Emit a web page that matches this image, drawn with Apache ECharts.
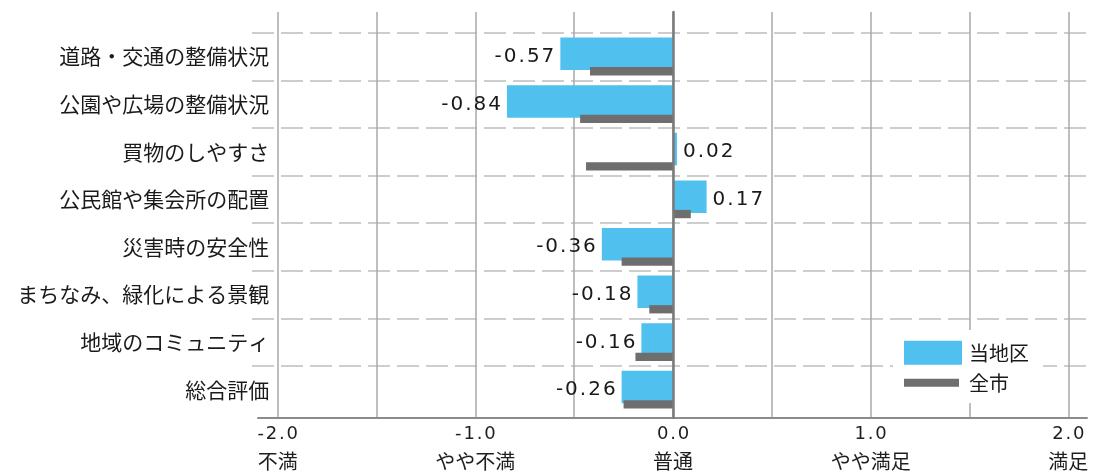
<!DOCTYPE html>
<html lang="ja">
<head>
<meta charset="utf-8">
<title>満足度評価</title>
<script src="https://cdn.jsdelivr.net/npm/echarts@6/dist/echarts.min.js"></script>
<style>
  html, body { margin: 0; padding: 0; background: #ffffff; }
  #chart { width: 1102px; height: 473px; }
</style>
</head>
<body>
<div id="chart"></div>
<script>
// 評価項目（上から順）
const categories = [
  '道路・交通の整備状況',
  '公園や広場の整備状況',
  '買物のしやすさ',
  '公民館や集会所の配置',
  '災害時の安全性',
  'まちなみ、緑化による景観',
  '地域のコミュニティ',
  '総合評価'
];
// 系列名
const seriesNames = ['当地区', '全市'];
// 当地区の評価点
const districtValues = [-0.57, -0.84, 0.02, 0.17, -0.36, -0.18, -0.16, -0.26];
// 全市の評価点
const cityValues = [-0.42, -0.47, -0.44, 0.09, -0.26, -0.12, -0.19, -0.25];
// 目盛と評価段階
const tickValues = [-2, -1, 0, 1, 2];
const tickNames = ['不満', 'やや不満', '普通', 'やや満足', '満足'];

const COLOR_DISTRICT = '#50c1ef';
const COLOR_CITY = '#6e6e6e';
const JP = '"Noto Sans CJK JP", "Noto Sans", sans-serif';
const NUM = '"DejaVu Sans", sans-serif';

// 数値ラベルは字間をわずかに空けて表示
function spaced(str) {
  return str.split('').join('\u200A');
}

const chart = echarts.init(document.getElementById('chart'), null, { renderer: 'canvas' });

const option = {
  backgroundColor: '#ffffff',
  animation: false,
  grid: [
    // 0: 縦の目盛線・目盛ラベル・ゼロ線
    { left: 277.7, right: 33.7, top: 12, bottom: 55.3 },
    // 1: 棒と項目名
    { left: 277.7, right: 33.7, top: 32.7, bottom: 59.5 },
    // 2: 項目間の破線
    { left: 252, right: 10, top: 32.7, bottom: 59.5 },
    // 3: 下側の軸線
    { left: 258, right: 15, top: 12, bottom: 55.3 }
  ],
  xAxis: [
    {
      gridIndex: 0, type: 'value', min: -2, max: 2, interval: 0.5,
      axisLine: { show: false, onZero: false },
      axisTick: { show: false },
      splitLine: { show: true, lineStyle: { color: '#a8a8a8', width: 1.5 } },
      axisLabel: {
        margin: 3.3,
        formatter: function (v) {
          const i = tickValues.indexOf(v);
          if (i < 0) return '';
          return '{num|' + spaced(v.toFixed(1)) + '}\n{name|' + tickNames[i] + '}';
        },
        rich: {
          num: { fontFamily: NUM, fontSize: 18, color: '#1e1e1e', lineHeight: 27 },
          name: { fontFamily: JP, fontSize: 20, color: '#1e1e1e', lineHeight: 27 }
        }
      }
    },
    {
      gridIndex: 1, type: 'value', min: -2, max: 2,
      axisLine: { show: false, onZero: false },
      axisTick: { show: false }, axisLabel: { show: false }, splitLine: { show: false }
    },
    {
      gridIndex: 2, type: 'value', min: 0, max: 1,
      axisLine: { show: false, onZero: false },
      axisTick: { show: false }, axisLabel: { show: false }, splitLine: { show: false }
    },
    {
      gridIndex: 3, type: 'value', min: 0, max: 1,
      axisLine: { show: true, onZero: false, lineStyle: { color: '#8c8c8c', width: 2 } },
      axisTick: { show: false }, axisLabel: { show: false }, splitLine: { show: false }
    }
  ],
  yAxis: [
    {
      // ゼロ位置に置く縦線
      gridIndex: 0, type: 'value', min: 0, max: 1, z: 5,
      axisLine: { show: true, onZero: true, lineStyle: { color: '#7a7a7a', width: 2.5 } },
      axisTick: { show: false }, axisLabel: { show: false }, splitLine: { show: false }
    },
    {
      gridIndex: 1, type: 'category', data: categories, inverse: true,
      axisLine: { show: false, onZero: false },
      axisTick: { show: false },
      splitLine: { show: false },
      axisLabel: {
        margin: 8.5,
        fontFamily: JP, fontSize: 21, color: '#1a1a1a'
      }
    },
    {
      gridIndex: 2, type: 'category', data: categories, inverse: true,
      axisLine: { show: false, onZero: false },
      axisTick: { show: false }, axisLabel: { show: false },
      splitLine: {
        show: true, showMaxLine: false,
        lineStyle: { color: '#bdbdbd', width: 1.5, type: [22, 7] }
      }
    },
    {
      gridIndex: 3, type: 'value', min: 0, max: 1,
      axisLine: { show: false, onZero: false },
      axisTick: { show: false }, axisLabel: { show: false }, splitLine: { show: false }
    }
  ],
  series: [
    {
      name: seriesNames[0],
      type: 'bar',
      xAxisIndex: 1, yAxisIndex: 1,
      barWidth: 32.5,
      barGap: '-9.2%',
      itemStyle: { color: COLOR_DISTRICT },
      label: {
        show: true,
        distance: 6,
        offset: [0, 3],
        fontFamily: NUM, fontSize: 20, color: '#1a1a1a',
        formatter: function (p) { return spaced(p.value.toFixed(2)); }
      },
      data: districtValues.map(function (v) {
        return { value: v, label: { position: v < 0 ? 'left' : 'right' } };
      })
    },
    {
      name: seriesNames[1],
      type: 'bar',
      xAxisIndex: 1, yAxisIndex: 1,
      barWidth: 8.3,
      barGap: '-9.2%',
      itemStyle: { color: COLOR_CITY },
      data: cityValues
    }
  ],
  // 凡例
  graphic: [
    { type: 'rect', z: 20, shape: { x: 893, y: 330, width: 150, height: 73 }, style: { fill: '#ffffff' } },
    { type: 'rect', z: 21, shape: { x: 904, y: 340.7, width: 58, height: 24 }, style: { fill: COLOR_DISTRICT } },
    { type: 'rect', z: 21, shape: { x: 904, y: 378.7, width: 55, height: 8 }, style: { fill: COLOR_CITY } },
    { type: 'text', z: 21, x: 969, y: 353, style: { text: seriesNames[0], font: '20px ' + JP, fill: '#1a1a1a', verticalAlign: 'middle' } },
    { type: 'text', z: 21, x: 969, y: 383.5, style: { text: seriesNames[1], font: '20px ' + JP, fill: '#1a1a1a', verticalAlign: 'middle' } }
  ]
};

chart.setOption(option);
</script>
</body>
</html>
